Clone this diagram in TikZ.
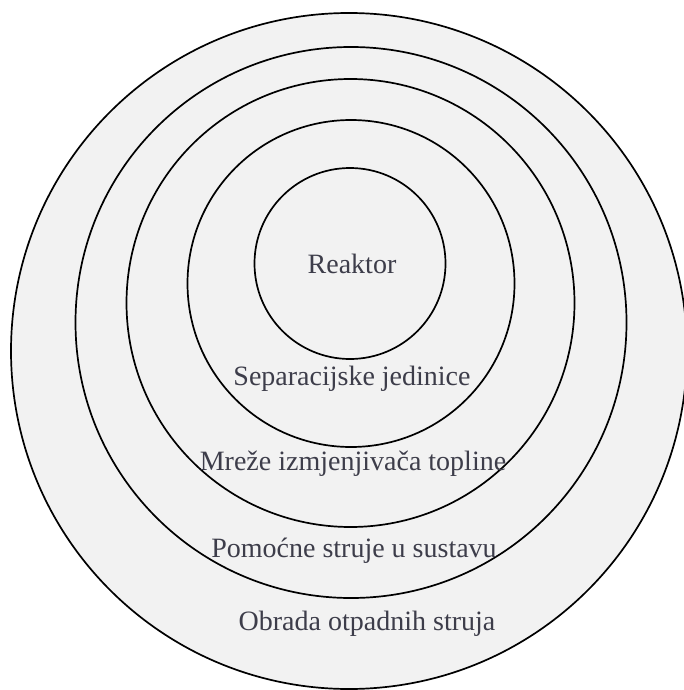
\documentclass[tikz,border=0pt]{standalone}
\usepackage{fontspec}
\setmainfont{Liberation Serif}
\usepackage{tikz}
\definecolor{ringgray}{HTML}{F2F2F2}
\definecolor{labelgray}{HTML}{3D3D4A}

\begin{document}
\begin{tikzpicture}[x=1pt,y=-1pt,
    layer/.style={circle,draw=black,line width=1.7pt,fill=ringgray,inner sep=0pt},
    caption/.style={anchor=base,text=labelgray,inner sep=0pt,font=\fontsize{28}{32}\selectfont}]
  \useasboundingbox (0,0) rectangle (684,690);

  \node[layer,minimum size=676pt] (Obrada) at (349,351) {};
  \node[layer,minimum size=551pt] (Pomocne) at (351,322.5) {};
  \node[layer,minimum size=448pt] (Mreze) at (350.5,303) {};
  \node[layer,minimum size=327pt] (Separacijske) at (351,283.5) {};
  \node[layer,minimum size=191pt] (Reaktor) at (350,263.5) {};

  \node[caption] (ReaktorText) at (352,273) {Reaktor};
  \node[caption] (SeparacijskeText) at (352,385) {Separacijske jedinice};
  \node[caption] (MrezeText) at (353,470) {Mreže izmjenjivača topline};
  \node[caption] (PomocneText) at (354,557) {Pomoćne struje u sustavu};
  \node[caption] (ObradaText) at (367,630) {Obrada otpadnih struja};
\end{tikzpicture}
\end{document}
